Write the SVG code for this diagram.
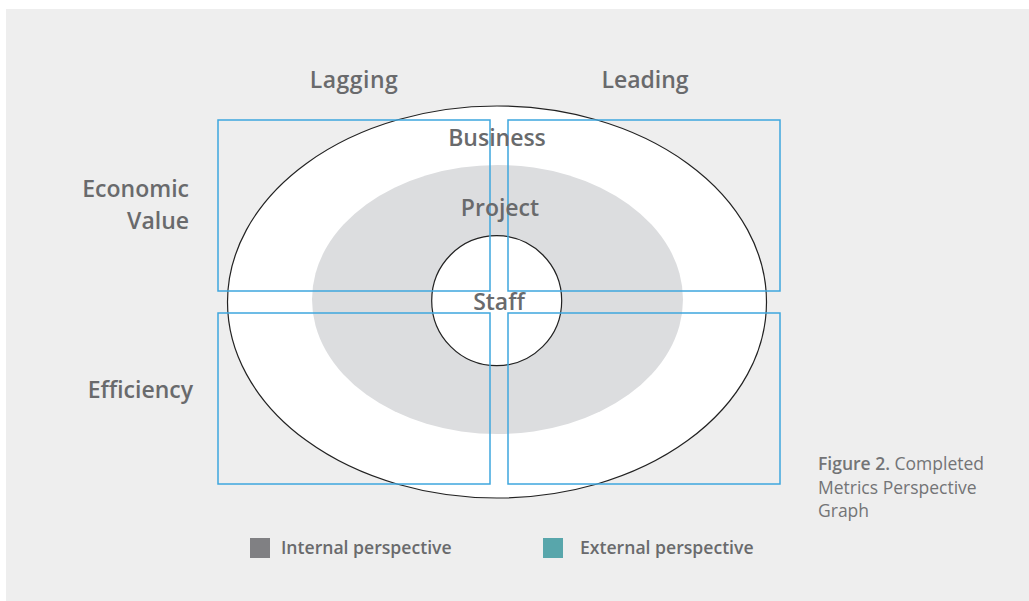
<svg xmlns="http://www.w3.org/2000/svg" width="1029" height="601" viewBox="0 0 1029 601">
<style>
.lbl{font-family:"Open Sans","Liberation Sans",sans-serif;font-weight:600;font-size:23px;fill:#696a6c}
.leg{font-family:"Open Sans","Liberation Sans",sans-serif;font-weight:600;font-size:17.6px;fill:#696a6c}
.cap{font-family:"Open Sans","Liberation Sans",sans-serif;font-weight:400;font-size:17.5px;fill:#737476}
.quad{fill:none;stroke:#3ea6de;stroke-width:1.5}
.ring{stroke:#222;stroke-width:1.2}
</style>
<rect x="0" y="0" width="1029" height="601" fill="#ffffff"/>
<rect x="6" y="9" width="1023" height="592" fill="#eeeeee"/>
<g id="business">
<ellipse cx="497" cy="302" rx="269.5" ry="196" fill="#ffffff" class="ring"/>
</g>
<g id="project">
<ellipse cx="497.5" cy="299.5" rx="185.5" ry="134.5" fill="#dcdddf"/>
</g>
<g id="staff">
<circle cx="496.7" cy="300.7" r="65" fill="#ffffff" class="ring"/>
</g>
<g id="quadrants">
<rect class="quad" x="218" y="120" width="272" height="171"/>
<rect class="quad" x="508" y="120" width="272" height="171"/>
<rect class="quad" x="218" y="313" width="272" height="171"/>
<rect class="quad" x="508" y="313" width="272" height="171"/>
</g>
<g id="labels">
<text class="lbl" x="354" y="88" text-anchor="middle" letter-spacing="0.5">Lagging</text>
<text class="lbl" x="645" y="88" text-anchor="middle">Leading</text>
<text class="lbl" x="497" y="146" text-anchor="middle">Business</text>
<text class="lbl" x="500" y="216" text-anchor="middle">Project</text>
<text class="lbl" x="499" y="310" text-anchor="middle">Staff</text>
<text class="lbl" x="189" y="197" text-anchor="end" font-size="22.5">Economic</text>
<text class="lbl" x="189" y="228.5" text-anchor="end" font-size="22.5">Value</text>
<text class="lbl" x="193" y="398" text-anchor="end">Efficiency</text>
</g>
<g id="caption">
<text class="cap" x="818" y="470"><tspan font-weight="600">Figure 2.</tspan> Completed</text>
<text class="cap" x="818" y="494">Metrics Perspective</text>
<text class="cap" x="818" y="517">Graph</text>
</g>
<g id="legend-internal">
<rect x="250" y="538" width="20" height="20" fill="#808083"/>
<text class="leg" x="281" y="554">Internal perspective</text>
</g>
<g id="legend-external">
<rect x="543" y="538" width="20" height="20" fill="#58a6ab"/>
<text class="leg" x="580" y="554">External perspective</text>
</g>
</svg>
